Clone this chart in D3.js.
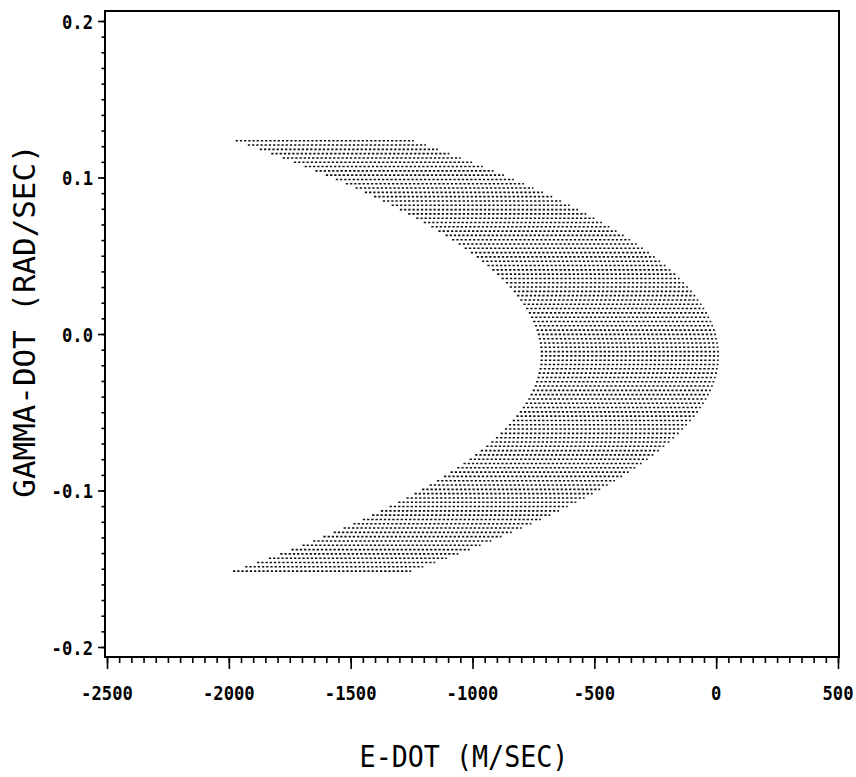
<!DOCTYPE html>
<html><head><meta charset="utf-8">
<script src="https://cdn.jsdelivr.net/npm/d3@7"></script>
<style>body{margin:0;background:#fff}</style>
</head><body><svg id="c" width="856" height="777"></svg>
<script>
const xTickValues = [-2500,-2000,-1500,-1000,-500,0,500];
const xTickLabels = ["-2500","-2000","-1500","-1000","-500","0","500"];
const yTickValues = [0.2,0.1,0,-0.1,-0.2];
const yTickLabels = ["0.2","0.1","0.0","-0.1","-0.2"];
const xTitle = "E-DOT (M/SEC)";
const yTitle = "GAMMA-DOT (RAD/SEC)";

// each dotted row of the reachable region: gamma-dot level, leftmost and rightmost e-dot
const rowGamma = [0.1235,0.12075,0.118,0.11525,0.1125,0.10975,0.107,0.10425,0.1015,0.09875,
 0.096,0.09325,0.0905,0.08775,0.085,0.08225,0.0795,0.07675,0.074,0.07125,
 0.0685,0.06575,0.063,0.06025,0.0575,0.05475,0.052,0.04925,0.0465,0.04375,
 0.041,0.03825,0.0355,0.03275,0.03,0.02725,0.0245,0.02175,0.019,0.01625,
 0.0135,0.01075,0.008,0.00525,0.0025,-0.00025,-0.003,-0.00575,-0.0085,-0.01125,
 -0.014,-0.01675,-0.0195,-0.02225,-0.025,-0.02775,-0.0305,-0.03325,-0.036,-0.03875,
 -0.0415,-0.04425,-0.047,-0.04975,-0.0525,-0.05525,-0.058,-0.06075,-0.0635,-0.06625,
 -0.069,-0.07175,-0.0745,-0.07725,-0.08,-0.08275,-0.0855,-0.08825,-0.091,-0.09375,
 -0.0965,-0.09925,-0.102,-0.10475,-0.1075,-0.11025,-0.113,-0.11575,-0.1185,-0.12125,
 -0.124,-0.12675,-0.1295,-0.13225,-0.135,-0.13775,-0.1405,-0.14325,-0.146,-0.14875,
 -0.1515];
const rowLeft = [-1972,-1922,-1873,-1826,-1779,-1733,-1689,-1645,-1602,-1561,
 -1520,-1480,-1442,-1404,-1368,-1332,-1298,-1264,-1231,-1200,
 -1169,-1140,-1111,-1084,-1057,-1032,-1007,-983,-961,-939,
 -919,-899,-881,-863,-847,-831,-817,-804,-791,-780,
 -769,-760,-751,-744,-737,-732,-728,-724,-722,-720,
 -720,-721,-722,-725,-729,-733,-739,-745,-753,-762,
 -771,-782,-794,-806,-820,-835,-851,-867,-885,-904,
 -923,-944,-966,-989,-1012,-1037,-1063,-1090,-1117,-1146,
 -1176,-1207,-1238,-1271,-1305,-1340,-1376,-1412,-1450,-1489,
 -1529,-1570,-1612,-1654,-1698,-1743,-1789,-1836,-1884,-1933,
 -1983];
const rowRight = [-1241,-1191,-1142,-1095,-1048,-1002,-958,-914,-871,-830,
 -789,-750,-711,-673,-637,-601,-567,-533,-500,-469,
 -438,-409,-380,-353,-326,-301,-276,-252,-230,-208,
 -188,-168,-150,-132,-116,-100,-86,-73,-60,-49,
 -38,-29,-20,-13,-6,-1,3,7,9,11,
 11,10,9,6,3,-2,-8,-14,-22,-31,
 -40,-51,-63,-75,-89,-104,-120,-136,-154,-173,
 -192,-213,-235,-258,-281,-306,-332,-359,-386,-415,
 -445,-476,-507,-540,-574,-609,-645,-681,-719,-758,
 -798,-839,-881,-923,-967,-1012,-1058,-1105,-1153,-1202,
 -1252];

const svg = d3.select("#c");
const frame = {left: 105, right: 839, top: 11, bottom: 657};
const x = d3.scaleLinear().domain([-2500, 500]).range([107, 838]);
const y = d3.scaleLinear().domain([-0.2, 0.2]).range([647, 21]);
const FONT = "'DejaVu Sans Mono', 'Liberation Mono', monospace";

// dotted rows
const rows = rowGamma.map((g, i) => ({g, l: rowLeft[i], r: rowRight[i]}));
svg.append("g").selectAll("line").data(rows).join("line")
  .attr("x1", d => x(d.l)).attr("x2", d => x(d.r))
  .attr("y1", d => y(d.g)).attr("y2", d => y(d.g))
  .attr("stroke", "#111").attr("stroke-width", 1.6)
  .attr("stroke-dasharray", "2.3,1.9");

// minor + major ticks via axes
function styleAxis(g) {
  g.select(".domain").remove();
  g.selectAll("line").attr("stroke", "#000").attr("stroke-width", 1.6);
  g.selectAll("text").remove();
}
svg.append("g").attr("transform", `translate(0,${frame.bottom})`)
  .call(d3.axisBottom(x).tickValues(d3.range(-2500, 501, 50)).tickSize(6).tickFormat(""))
  .call(styleAxis);
svg.append("g").attr("transform", `translate(0,${frame.bottom})`)
  .call(d3.axisBottom(x).tickValues(xTickValues).tickSize(12).tickFormat(""))
  .call(styleAxis);
svg.append("g").attr("transform", `translate(${frame.left},0)`)
  .call(d3.axisLeft(y).tickValues(d3.range(-20, 21, 1).map(v => v / 100)).tickSize(3.5).tickFormat(""))
  .call(styleAxis);
svg.append("g").attr("transform", `translate(${frame.left},0)`)
  .call(d3.axisLeft(y).tickValues(yTickValues).tickSize(7).tickFormat(""))
  .call(styleAxis);

// frame
svg.append("rect")
  .attr("x", frame.left).attr("y", frame.top)
  .attr("width", frame.right - frame.left).attr("height", frame.bottom - frame.top)
  .attr("fill", "none").attr("stroke", "#000").attr("stroke-width", 2);

// tick labels (condensed by horizontal scaling)
const SX = 0.86;
svg.append("g").selectAll("text").data(xTickValues).join("text")
  .attr("transform", d => `translate(${x(d)},700) scale(${SX},1)`)
  .attr("text-anchor", "middle")
  .attr("font-family", FONT).attr("font-weight", "bold").attr("font-size", 20)
  .text((d, i) => xTickLabels[i]);

svg.append("g").selectAll("text").data(yTickValues).join("text")
  .attr("transform", d => `translate(93,${y(d) + 7.5}) scale(${SX},1)`)
  .attr("text-anchor", "end")
  .attr("font-family", FONT).attr("font-weight", "bold").attr("font-size", 20)
  .text((d, i) => yTickLabels[i]);

// axis titles
svg.append("text")
  .attr("transform", "translate(464,767) scale(0.89,1)")
  .attr("text-anchor", "middle")
  .attr("font-family", FONT).attr("font-size", 30)
  .text(xTitle);

svg.append("text")
  .attr("transform", "translate(35,321) rotate(-90) scale(1.03,1)")
  .attr("text-anchor", "middle")
  .attr("font-family", FONT).attr("font-size", 30)
  .text(yTitle);
</script>
</body></html>
